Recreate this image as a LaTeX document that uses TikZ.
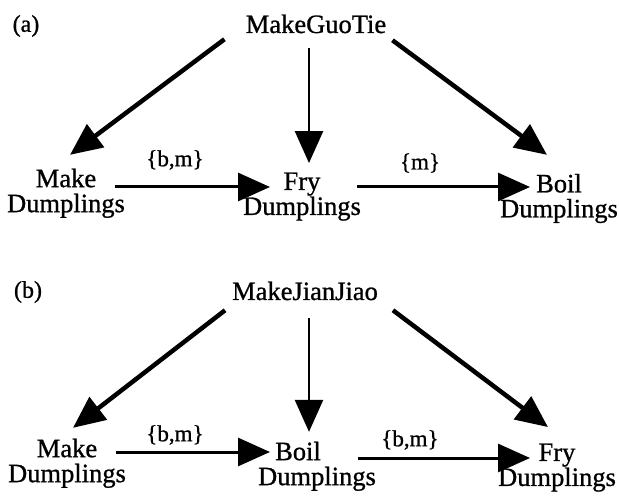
\documentclass[tikz,border=0pt]{standalone}
\usepackage{fontspec}
\setmainfont{Liberation Serif}[FakeBold=0.9]
\usetikzlibrary{arrows.meta}
\begin{document}
\begin{tikzpicture}[x=1pt,y=-1pt,
  every node/.style={inner sep=0pt, outer sep=0pt},
  task/.style={font=\fontsize{26.5}{25}\selectfont, align=center},
  root/.style={font=\fontsize{26.5}{25}\selectfont, anchor=base},
  tag/.style={font=\fontsize{24}{25}\selectfont},
  cond/.style={font=\fontsize{23}{25}\selectfont},
  link/.style={-{Triangle[length=32pt,width=28pt]}},
  sub/.style={link, line width=4.5pt},
  down/.style={link, line width=2.6pt},
  seq/.style={link, line width=3pt},
]
\useasboundingbox (0,0) rectangle (619,497);

% ---------- (a) MakeGuoTie ----------
\node[tag] (la) at (26,26) {(a)};
\node[root] (topa) at (316,33) {MakeGuoTie};
\node[task] (mda) at (66,193.3) {Make\\Dumplings};
\node[task] (frya) at (302,196.6) {Fry\\Dumplings};
\node[task] (boila) at (559,198.5) {Boil\\Dumplings};

\draw[sub]  ([shift={(-21.4,6)}]topa.south west) -- ([shift={(4,-13.9)}]mda.north);
\draw[down] ([shift={(-7,15)}]topa.south) -- ([shift={(7,-9.5)}]frya.north);
\draw[sub]  ([shift={(6.3,7)}]topa.south east) -- ([shift={(-12,-19.1)}]boila.north);
\draw[seq]  ([shift={(-9.9,-6.3)}]mda.east) -- ([shift={(26.9,-9.6)}]frya.west);
\draw[seq]  ([shift={(-3.9,-9.6)}]frya.east) -- ([shift={(29.9,-11.5)}]boila.west);

\node[cond] (ca1) at (175,160) {\{b,m\}};
\node[cond] (ca2) at (420,163) {\{m\}};

% ---------- (b) MakeJianJiao ----------
\node[tag] (lb) at (28,292) {(b)};
\node[root] (topb) at (305,300) {MakeJianJiao};
\node[task] (mdb) at (67,463.3) {Make\\Dumplings};
\node[task] (boilb) at (317,466.3) {Boil\hspace*{38pt}\\Dumplings};
\node[task] (fryb) at (557,467.6) {Fry\\Dumplings};

\draw[sub]  ([shift={(-7.1,10)}]topb.south west) -- ([shift={(6,-10.9)}]mdb.north);
\draw[down] ([shift={(4,18)}]topb.south) -- ([shift={(-8,-9.9)}]boilb.north);
\draw[sub]  ([shift={(15.1,10)}]topb.south east) -- ([shift={(-9,-16.5)}]fryb.north);
\draw[seq]  ([shift={(-9.9,-11.3)}]mdb.east) -- ([shift={(11.9,-14.3)}]boilb.west);
\draw[seq]  ([shift={(-17.9,-8.3)}]boilb.east) -- ([shift={(31.9,-9.6)}]fryb.west);

\node[cond] (cb1) at (175,435) {\{b,m\}};
\node[cond] (cb2) at (410,440) {\{b,m\}};
\end{tikzpicture}
\end{document}
